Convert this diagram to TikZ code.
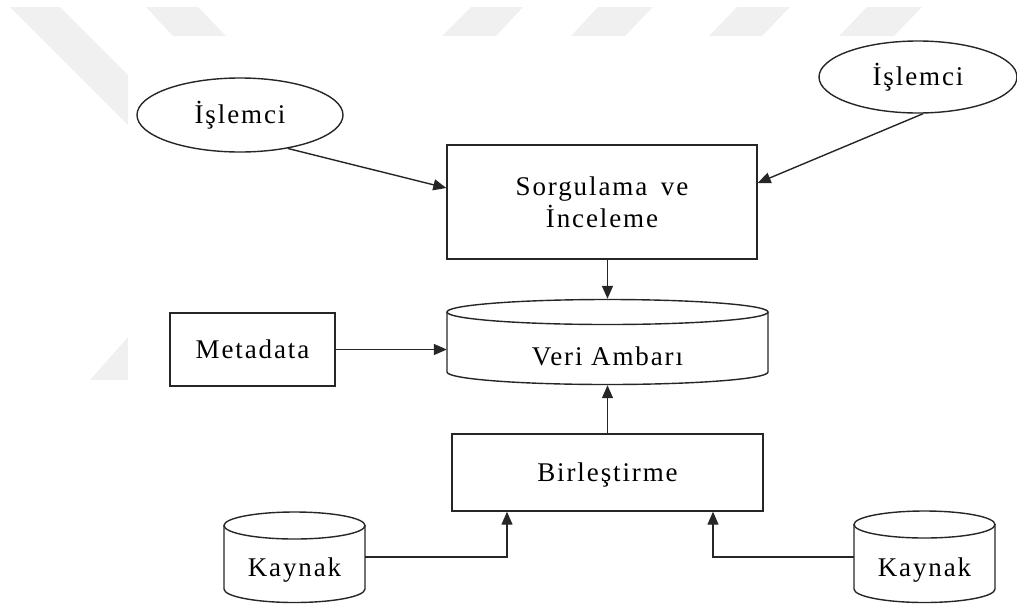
\documentclass[tikz,border=0pt]{standalone}
\usepackage{fontspec}
\setmainfont{Liberation Serif}[LetterSpace=7]
\usetikzlibrary{arrows.meta,shapes.geometric}
\begin{document}
\begin{tikzpicture}[x=1pt,y=-1pt,
  every node/.style={font=\fontsize{27}{32}\selectfont, text=black},
  line/.style={draw=black!85, line width=1.4pt},
  box/.style={line, rectangle, inner sep=0pt, text depth=0pt},
  oval/.style={line, ellipse, inner sep=0pt},
  hold/.style={rectangle, inner sep=0pt, draw=none},
  arr/.style={line, -{Triangle[length=13pt,width=11pt]}},
  shade/.style={fill=gray!12, draw=none}]
\useasboundingbox (0,0) rectangle (1017,603);

% faint background stripes along the top and left margins
\begin{scope}
  \clip (0,7) rectangle (1017,36) (0,7) rectangle (128,380);
  \fill[shade] (10,7) -- (60,7) -- (460,407) -- (410,407) -- cycle;
  \fill[shade] (146,7) -- (198,7) -- (226,36) -- (173,36) -- cycle;
  \fill[shade] (471,7) -- (523,7) -- (496,36) -- (442,36) -- cycle;
  \fill[shade] (598,7) -- (653,7) -- (625,36) -- (571,36) -- cycle;
  \fill[shade] (737,7) -- (790,7) -- (762,36) -- (709,36) -- cycle;
  \fill[shade] (867,7) -- (922,7) -- (894,36) -- (839,36) -- cycle;
  \fill[shade] (90,380) -- (128,337) -- (128,380) -- cycle;
\end{scope}

% processors
\node[oval, minimum width=206pt, minimum height=74pt] (isl1) at (240,115) {İşlemci};
\node[oval, minimum width=198pt, minimum height=72pt] (isl2) at (918,77) {İşlemci};

% query box
\node[box, minimum width=310pt, minimum height=114pt, align=center] (sorg) at (602,202) {Sorgulama\hspace{5pt} ve\\İnceleme};

% metadata and integration boxes
\node[box, minimum width=165pt, minimum height=73pt] (meta) at (252.5,349.5) {Metadata};
\node[box, minimum width=311pt, minimum height=77pt] (bir) at (607.5,472.5) {Birleştirme};

% data warehouse cylinder
\node[hold, minimum width=321pt, minimum height=86pt] (veri) at (607.5,342) {};
\draw[line] (607.5,312) ellipse [x radius=160.5pt, y radius=12.5pt];
\draw[line] (447,312) -- (447,372) arc[start angle=180, end angle=360, x radius=160.5pt, y radius=12.5pt] -- (768,312);
\node (veritext) at (607.5,356) {Veri Ambarı};

% source cylinders
\node[hold, minimum width=141pt, minimum height=90pt] (kay1) at (294.5,557) {};
\draw[line] (294.5,525.5) ellipse [x radius=70.5pt, y radius=13.5pt];
\draw[line] (224,525.5) -- (224,589) arc[start angle=180, end angle=360, x radius=70.5pt, y radius=13.5pt] -- (365,525.5);
\node (kay1text) at (294.5,570.5) {Kaynak};

\node[hold, minimum width=141pt, minimum height=90pt] (kay2) at (924.5,557) {};
\draw[line] (924.5,524.5) ellipse [x radius=70.5pt, y radius=13.5pt];
\draw[line] (854,524.5) -- (854,589) arc[start angle=180, end angle=360, x radius=70.5pt, y radius=13.5pt] -- (995,524.5);
\node (kay2text) at (924.5,570.5) {Kaynak};

% connectors
\draw[arr] (isl1.-35) -- ([yshift=14pt]sorg.west);
\draw[arr] (isl2.-82) -- ([yshift=19pt]sorg.east);
\draw[arr] (sorg.south -| veri.north) -- (veri.north);
\draw[arr] (meta.east) -- (meta.east -| veri.west);
\draw[arr] (bir.north) -- (veri.south);
\draw[arr] (kay1.east) -| ([xshift=-100.5pt]bir.south);
\draw[arr] (kay2.west) -| ([xshift=105.5pt]bir.south);
\end{tikzpicture}
\end{document}
